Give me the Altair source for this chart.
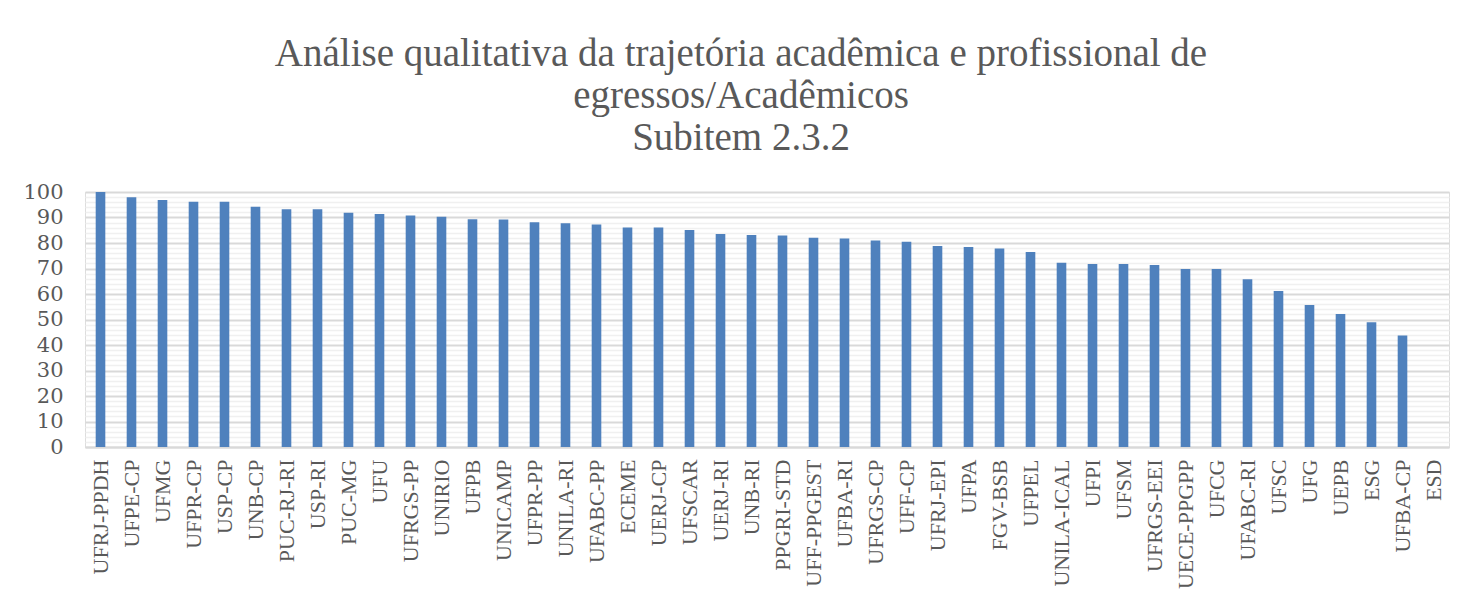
import altair as alt
import pandas as pd

categories = ["UFRJ-PPDH", "UFPE-CP", "UFMG", "UFPR-CP", "USP-CP", "UNB-CP", "PUC-RJ-RI", "USP-RI",
              "PUC-MG", "UFU", "UFRGS-PP", "UNIRIO", "UFPB", "UNICAMP", "UFPR-PP", "UNILA-RI",
              "UFABC-PP", "ECEME", "UERJ-CP", "UFSCAR", "UERJ-RI", "UNB-RI", "PPGRI-STD", "UFF-PPGEST",
              "UFBA-RI", "UFRGS-CP", "UFF-CP", "UFRJ-EPI", "UFPA", "FGV-BSB", "UFPEL", "UNILA-ICAL",
              "UFPI", "UFSM", "UFRGS-EEI", "UECE-PPGPP", "UFCG", "UFABC-RI", "UFSC", "UFG",
              "UEPB", "ESG", "UFBA-CP", "ESD"]
values = [100, 97.9, 96.9, 96.2, 96.2, 94.2, 93.2, 93.2,
          91.9, 91.4, 90.8, 90.3, 89.3, 89.2, 88.1, 87.7,
          87.3, 86.1, 86.1, 85.1, 83.5, 83.1, 82.9, 82.1,
          81.8, 81.0, 80.5, 78.8, 78.4, 77.8, 76.5, 72.3,
          71.8, 71.8, 71.4, 69.8, 69.8, 65.8, 61.2, 55.7,
          52.2, 48.9, 43.7, 0]
y_ticks = list(range(0, 101, 2))
title_lines = ["Análise qualitativa da trajetória acadêmica e profissional de",
               "egressos/Acadêmicos", "Subitem 2.3.2"]

df = pd.DataFrame({"inst": categories, "val": values})

FONT = "Liberation Serif"
TXT = "#595959"

chart = alt.Chart(df).mark_bar(color="#4F81BD").encode(
    x=alt.X("inst:N", sort=None, title=None,
            scale=alt.Scale(paddingInner=0.69, paddingOuter=0.345),
            axis=alt.Axis(labelAngle=270, labelFont=FONT, labelFontSize=22, labelColor=TXT,
                          ticks=False, domain=True, domainColor="#D9D9D9", domainWidth=2,
                          labelPadding=12, labelLimit=300)),
    y=alt.Y("val:Q", title=None,
            scale=alt.Scale(domain=[0, 100], nice=False),
            axis=alt.Axis(values=y_ticks, ticks=False, domain=False,
                          labelExpr="datum.value % 10 === 0 ? datum.label : ''",
                          labelFont="DejaVu Serif", labelFontSize=21, labelColor=TXT, labelPadding=22,
                          gridColor=alt.condition("datum.value % 10 === 0",
                                                  alt.value("#D9D9D9"), alt.value("#F0F0F0")),
                          gridWidth=alt.condition("datum.value % 10 === 0",
                                                  alt.value(2), alt.value(1.5)))),
).properties(
    width=1364, height=255,
    title=alt.TitleParams(title_lines, font=FONT, fontSize=39, fontWeight="normal",
                          color=TXT, anchor="middle", dx=-26, offset=23, lineHeight=42),
    autosize=alt.AutoSizeParams(type="none"),
    padding={"left": 77, "top": 184, "right": 3, "bottom": 152},
).configure_view(stroke=None).configure(background="white")

chart.save("out.html", embed_options={"renderer": "svg", "actions": False})
